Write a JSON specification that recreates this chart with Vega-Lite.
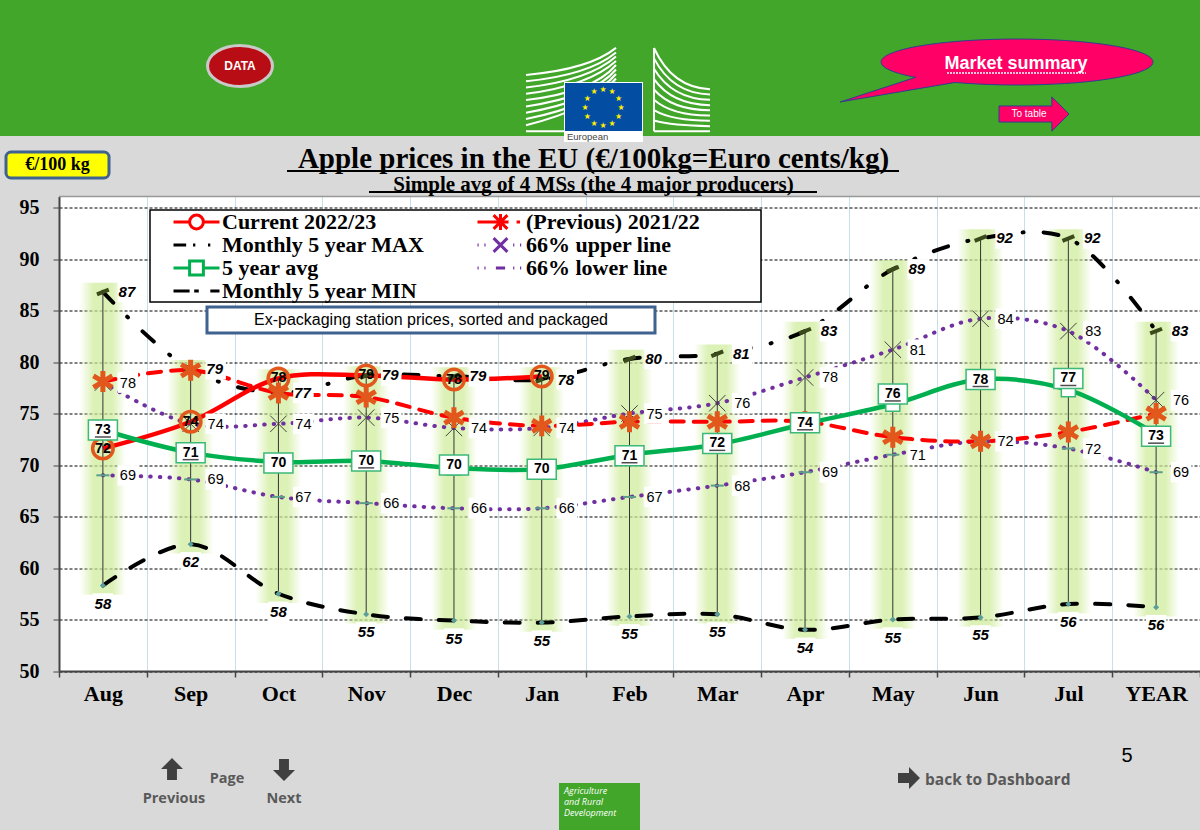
{
"$schema":"https://vega.github.io/schema/vega-lite/v6.json",
"width":1141,"height":474.5,
"autosize":{"type":"none"},
"padding":{"left":59,"top":196.5,"right":0,"bottom":159},
"background":"#d9d9d9",
"view":{"fill":"white","stroke":null},
"title":{"text":"Apple prices in the EU (€/100kg=Euro cents/kg)","subtitle":"Simple avg of 4 MSs (the 4 major producers)","anchor":"middle","frame":"group","dx":-36,"offset":-195,"font":"Liberation Serif","fontWeight":"bold","fontSize":29,"color":"#000000","subtitleFont":"Liberation Serif","subtitleFontWeight":"bold","subtitleFontSize":21,"subtitleColor":"#000000","subtitlePadding":0},
"datasets":{
"prices":[
{"series":"Current 2022/23","month":"Aug","value":71.6,"label":"72"},{"series":"Current 2022/23","month":"Sep","value":74.2,"label":"74"},{"series":"Current 2022/23","month":"Oct","value":78.4,"label":"78"},{"series":"Current 2022/23","month":"Nov","value":78.7,"label":"79"},{"series":"Current 2022/23","month":"Dec","value":78.3,"label":"78"},{"series":"Current 2022/23","month":"Jan","value":78.6,"label":"79"},
{"series":"(Previous) 2021/22","month":"Aug","value":78.1},{"series":"(Previous) 2021/22","month":"Sep","value":79.2},{"series":"(Previous) 2021/22","month":"Oct","value":77},{"series":"(Previous) 2021/22","month":"Nov","value":76.6},{"series":"(Previous) 2021/22","month":"Dec","value":74.6},{"series":"(Previous) 2021/22","month":"Jan","value":73.8},{"series":"(Previous) 2021/22","month":"Feb","value":74.2},{"series":"(Previous) 2021/22","month":"Mar","value":74.2},{"series":"(Previous) 2021/22","month":"Apr","value":74.2},{"series":"(Previous) 2021/22","month":"May","value":72.7},{"series":"(Previous) 2021/22","month":"Jun","value":72.3},{"series":"(Previous) 2021/22","month":"Jul","value":73.2},{"series":"(Previous) 2021/22","month":"YEAR","value":75},
{"series":"Monthly 5 year MAX","month":"Aug","value":86.8,"label":"87"},{"series":"Monthly 5 year MAX","month":"Sep","value":79.3,"label":"79"},{"series":"Monthly 5 year MAX","month":"Oct","value":77,"label":"77"},{"series":"Monthly 5 year MAX","month":"Nov","value":78.7,"label":"79"},{"series":"Monthly 5 year MAX","month":"Dec","value":78.6,"label":"79"},{"series":"Monthly 5 year MAX","month":"Jan","value":78.3,"label":"78"},{"series":"Monthly 5 year MAX","month":"Feb","value":80.3,"label":"80"},{"series":"Monthly 5 year MAX","month":"Mar","value":80.8,"label":"81"},{"series":"Monthly 5 year MAX","month":"Apr","value":83,"label":"83"},{"series":"Monthly 5 year MAX","month":"May","value":89,"label":"89"},{"series":"Monthly 5 year MAX","month":"Jun","value":92,"label":"92"},{"series":"Monthly 5 year MAX","month":"Jul","value":92,"label":"92"},{"series":"Monthly 5 year MAX","month":"YEAR","value":83,"label":"83"},
{"series":"66% upper line","month":"Aug","value":78,"label":"78"},{"series":"66% upper line","month":"Sep","value":74,"label":"74"},{"series":"66% upper line","month":"Oct","value":74,"label":"74"},{"series":"66% upper line","month":"Nov","value":74.6,"label":"75"},{"series":"66% upper line","month":"Dec","value":73.6,"label":"74"},{"series":"66% upper line","month":"Jan","value":73.6,"label":"74"},{"series":"66% upper line","month":"Feb","value":75,"label":"75"},{"series":"66% upper line","month":"Mar","value":76,"label":"76"},{"series":"66% upper line","month":"Apr","value":78.5,"label":"78"},{"series":"66% upper line","month":"May","value":81.2,"label":"81"},{"series":"66% upper line","month":"Jun","value":84.2,"label":"84"},{"series":"66% upper line","month":"Jul","value":83,"label":"83"},{"series":"66% upper line","month":"YEAR","value":76.3,"label":"76"},
{"series":"5 year avg","month":"Aug","value":73.4,"label":"73","labelValue":73.4,"underlined":true},{"series":"5 year avg","month":"Sep","value":71.2,"label":"71","labelValue":71.2,"underlined":true},{"series":"5 year avg","month":"Oct","value":70.3,"label":"70","labelValue":70.2,"underlined":false},{"series":"5 year avg","month":"Nov","value":70.4,"label":"70","labelValue":70.4,"underlined":true},{"series":"5 year avg","month":"Dec","value":69.7,"label":"70","labelValue":70,"underlined":false},{"series":"5 year avg","month":"Jan","value":69.6,"label":"70","labelValue":69.6,"underlined":false},{"series":"5 year avg","month":"Feb","value":71,"label":"71","labelValue":70.9,"underlined":true},{"series":"5 year avg","month":"Mar","value":72,"label":"72","labelValue":72.1,"underlined":true},{"series":"5 year avg","month":"Apr","value":74,"label":"74","labelValue":74.1,"underlined":true},{"series":"5 year avg","month":"May","value":75.9,"label":"76","labelValue":76.9,"underlined":true},{"series":"5 year avg","month":"Jun","value":78.3,"label":"78","labelValue":78.3,"underlined":true},{"series":"5 year avg","month":"Jul","value":77.3,"label":"77","labelValue":78.4,"underlined":true},{"series":"5 year avg","month":"YEAR","value":73,"label":"73","labelValue":72.8,"underlined":true},
{"series":"66% lower line","month":"Aug","value":69,"label":"69"},{"series":"66% lower line","month":"Sep","value":68.6,"label":"69"},{"series":"66% lower line","month":"Oct","value":66.9,"label":"67"},{"series":"66% lower line","month":"Nov","value":66.3,"label":"66"},{"series":"66% lower line","month":"Dec","value":65.8,"label":"66"},{"series":"66% lower line","month":"Jan","value":65.8,"label":"66"},{"series":"66% lower line","month":"Feb","value":66.9,"label":"67"},{"series":"66% lower line","month":"Mar","value":68,"label":"68"},{"series":"66% lower line","month":"Apr","value":69.3,"label":"69"},{"series":"66% lower line","month":"May","value":71,"label":"71"},{"series":"66% lower line","month":"Jun","value":72.3,"label":"72"},{"series":"66% lower line","month":"Jul","value":71.6,"label":"72"},{"series":"66% lower line","month":"YEAR","value":69.3,"label":"69"},
{"series":"Monthly 5 year MIN","month":"Aug","value":58.3,"label":"58"},{"series":"Monthly 5 year MIN","month":"Sep","value":62.3,"label":"62"},{"series":"Monthly 5 year MIN","month":"Oct","value":57.5,"label":"58"},{"series":"Monthly 5 year MIN","month":"Nov","value":55.5,"label":"55"},{"series":"Monthly 5 year MIN","month":"Dec","value":54.9,"label":"55"},{"series":"Monthly 5 year MIN","month":"Jan","value":54.7,"label":"55"},{"series":"Monthly 5 year MIN","month":"Feb","value":55.3,"label":"55"},{"series":"Monthly 5 year MIN","month":"Mar","value":55.5,"label":"55"},{"series":"Monthly 5 year MIN","month":"Apr","value":54,"label":"54"},{"series":"Monthly 5 year MIN","month":"May","value":55,"label":"55"},{"series":"Monthly 5 year MIN","month":"Jun","value":55.2,"label":"55"},{"series":"Monthly 5 year MIN","month":"Jul","value":56.5,"label":"56"},{"series":"Monthly 5 year MIN","month":"YEAR","value":56.2,"label":"56"}
],
"range":[
{"month":"Aug","low":58.3,"high":86.8,"glowLow":57.4,"glowHigh":87.7},{"month":"Sep","low":62.3,"high":79.3,"glowLow":61.4,"glowHigh":80.2},{"month":"Oct","low":57.5,"high":78.4,"glowLow":56.6,"glowHigh":79.3},{"month":"Nov","low":55.5,"high":78.7,"glowLow":54.6,"glowHigh":79.6},{"month":"Dec","low":54.9,"high":78.6,"glowLow":54,"glowHigh":79.5},{"month":"Jan","low":54.7,"high":78.6,"glowLow":53.8,"glowHigh":79.5},{"month":"Feb","low":55.3,"high":80.3,"glowLow":54.4,"glowHigh":81.2},{"month":"Mar","low":55.5,"high":80.8,"glowLow":54.6,"glowHigh":81.7},{"month":"Apr","low":54,"high":83,"glowLow":53.1,"glowHigh":83.9},{"month":"May","low":55,"high":89,"glowLow":54.1,"glowHigh":89.9},{"month":"Jun","low":55.2,"high":92,"glowLow":54.3,"glowHigh":92.9},{"month":"Jul","low":56.5,"high":92,"glowLow":55.6,"glowHigh":92.9},{"month":"YEAR","low":56.2,"high":83,"glowLow":55.3,"glowHigh":83.9}
]},
"resolve":{"scale":{"x":"independent","y":"independent"}},
"layer":[
{"data":{"name":"prices"},
"encoding":{
"x":{"field":"month","type":"nominal","sort":null,"title":null,"scale":{"domain":["Aug","Sep","Oct","Nov","Dec","Jan","Feb","Mar","Apr","May","Jun","Jul","YEAR"],"paddingInner":0,"paddingOuter":0},
"axis":{"tickBand":"extent","labelAngle":0,"labelFont":"Liberation Serif","labelFontWeight":"bold","labelFontSize":22,"labelColor":"#000000","labelPadding":6,"tickColor":"#444444","tickSize":6,"tickWidth":1.5,"domainColor":"#444444","domainWidth":2,"grid":true,"gridColor":"#c5e0ec","gridWidth":1}},
"y":{"field":"value","type":"quantitative","title":null,"scale":{"domain":[50,96.07],"nice":false,"zero":false},
"axis":{"values":[50,55,60,65,70,75,80,85,90,95],"labelFont":"Liberation Serif","labelFontWeight":"bold","labelFontSize":20,"labelColor":"#000000","labelPadding":14,"tickColor":"#444444","tickSize":6,"tickWidth":1,"domainColor":"#444444","domainWidth":2,"grid":true,"gridColor":"#000000","gridDash":[3,2],"gridWidth":1}}
},
"layer":[
{"mark":{"type":"bar","size":46,"fill":{"x1":0,"x2":1,"y1":0,"y2":0,"gradient":"linear","stops":[{"offset":0,"color":"rgba(205,235,150,0)"},{"offset":0.3,"color":"rgba(205,235,150,0.7)"},{"offset":0.7,"color":"rgba(205,235,150,0.7)"},{"offset":1,"color":"rgba(205,235,150,0)"}]}},"data":{"name":"range"},"encoding":{"y":{"field":"glowLow","type":"quantitative"},"y2":{"field":"glowHigh"}}},
{"mark":{"type":"point","filled":false,"opacity":0,"size":2116,"strokeWidth":3},
"encoding":{
"color":{"field":"series","type":"nominal","scale":{"domain":["Current 2022/23","(Previous) 2021/22","Monthly 5 year MAX","66% upper line","5 year avg","66% lower line","Monthly 5 year MIN"],"range":["#ff0000","#ff0000","#000000","#7030a0","#00b050","#7030a0","#000000"]},
"legend":{"title":null,"orient":"none","legendX":113,"legendY":14,"direction":"horizontal","columns":2,"columnPadding":51,"rowPadding":0,"clipHeight":23,"padding":0,"symbolSize":2116,"labelFont":"Liberation Serif","labelFontWeight":"bold","labelFontSize":22,"labelColor":"#000000","labelOffset":1,"labelLimit":400,"symbolStrokeWidth":3,"encode":{"symbols":{"update":{"opacity":{"value":1},"strokeCap":{"value":"round"}}}}}},
"shape":{"field":"series","type":"nominal","scale":{"domain":["Current 2022/23","(Previous) 2021/22","Monthly 5 year MAX","66% upper line","5 year avg","66% lower line","Monthly 5 year MIN"],"range":["M-1 0L-.3 0M.3 0L1 0M.3 0A.3 .3 0 1 0 -.3 0A.3 .3 0 1 0 .3 0","M-1 0L-.35 0M.7 0L.85 0M-.3 -.3L.3 .3M-.3 .3L.3 -.3M0 -.35L0 .35M-.35 0L.35 0","M-1 0L-.45 0M-.15 0L-.05 0M.5 0L.6 0","M-1 0L-.95 0M-.7 0L-.65 0M.55 0L.6 0M.85 0L.9 0M-.3 -.3L.3 .3M-.3 .3L.3 -.3","M-1 0L-.3 0M.3 0L1 0M-.3 -.3L.3 -.3L.3 .3L-.3 .3Z","M-1 0L-.95 0M-.7 0L-.65 0M-.2 0L.2 0M.55 0L.6 0M.85 0L.9 0","M-1 0L-.3 0M.6 0L1 0M-.1 0L.1 0"]}}
}},
{"transform":[{"filter":"datum.series=='Monthly 5 year MIN'"}],"mark":{"type":"line","interpolate":"catmull-rom","color":"#000000","strokeWidth":4,"strokeDash":[15,18],"strokeCap":"round"}},
{"transform":[{"filter":"datum.series=='Monthly 5 year MAX'"}],"mark":{"type":"line","interpolate":"catmull-rom","color":"#000000","strokeWidth":4,"strokeDash":[15,20,1,20],"strokeCap":"round"}},
{"transform":[{"filter":"datum.series=='66% upper line'"}],"mark":{"type":"line","interpolate":"catmull-rom","color":"#7030a0","strokeWidth":4,"strokeDash":[0.5,9],"strokeCap":"round"}},
{"transform":[{"filter":"datum.series=='66% lower line'"}],"mark":{"type":"line","interpolate":"catmull-rom","color":"#7030a0","strokeWidth":4,"strokeDash":[0.5,9],"strokeCap":"round"}},
{"transform":[{"filter":"datum.series=='(Previous) 2021/22'"}],"mark":{"type":"line","interpolate":"catmull-rom","color":"#ff0000","strokeWidth":4,"strokeDash":[13,10],"strokeCap":"round"}},
{"transform":[{"filter":"datum.series=='Current 2022/23'"}],"mark":{"type":"line","interpolate":"catmull-rom","color":"#ff0000","strokeWidth":4.5}},
{"transform":[{"filter":"datum.series=='5 year avg'"}],"mark":{"type":"line","interpolate":"catmull-rom","color":"#00b050","strokeWidth":4.5}},
{"transform":[{"filter":"datum.series=='Monthly 5 year MAX'||datum.series=='66% upper line'||datum.series=='66% lower line'"}],"mark":{"type":"point","shape":"square","filled":true,"fill":"#ffffff","opacity":1,"size":420,"xOffset":25}},
{"transform":[{"filter":"datum.series=='Monthly 5 year MIN'"}],"mark":{"type":"point","shape":"square","filled":true,"fill":"#ffffff","opacity":1,"size":420,"yOffset":18}},
{"mark":{"type":"rule","color":"#333333","strokeWidth":1},"data":{"name":"range"},"encoding":{"y":{"field":"low","type":"quantitative"},"y2":{"field":"high"}}},
{"transform":[{"filter":"datum.series=='Monthly 5 year MIN'"}],"mark":{"type":"point","shape":"diamond","filled":true,"fill":"#5b9e9a","opacity":1,"size":36}},
{"transform":[{"filter":"datum.series=='Monthly 5 year MAX'"}],"mark":{"type":"point","shape":"M-1 .4L1 -.4","filled":false,"stroke":"#3a4a1a","strokeWidth":4,"opacity":1,"size":140}},
{"transform":[{"filter":"datum.series=='66% lower line'"}],"mark":{"type":"point","shape":"M-1 0L1 0","filled":false,"stroke":"#5b9e8a","strokeWidth":2,"opacity":1,"size":170}},
{"transform":[{"filter":"datum.series=='66% upper line'"}],"mark":{"type":"point","shape":"M-1 -1L1 1M-1 1L1 -1","filled":false,"stroke":"#444444","strokeWidth":1,"opacity":1,"size":270}},
{"transform":[{"filter":"datum.series=='(Previous) 2021/22'"}],"mark":{"type":"point","shape":"M0 -1L0 1M-.9 -.55L.9 .55M-.9 .55L.9 -.55","filled":false,"stroke":"#e2571b","strokeWidth":5,"opacity":1,"size":440}},
{"transform":[{"filter":"datum.series=='Current 2022/23'"}],"mark":{"type":"point","shape":"circle","filled":false,"stroke":"#e2571b","strokeWidth":3.5,"opacity":1,"size":420}},
{"transform":[{"filter":"datum.series=='5 year avg'"}],"mark":{"type":"point","shape":"square","filled":true,"fill":"#ffffff","stroke":"#3cb878","strokeWidth":1.5,"opacity":1,"size":196}},
{"transform":[{"filter":"datum.series=='5 year avg'"}],"mark":{"type":"rect","fill":"#ffffff","stroke":"#3cb878","strokeWidth":1.5,"width":29,"height":20},"encoding":{"y":{"field":"labelValue","type":"quantitative"}}},
{"transform":[{"filter":"datum.series=='5 year avg'"}],"mark":{"type":"text","font":"Liberation Sans","fontWeight":"bold","fontSize":14,"color":"#000000","baseline":"middle"},"encoding":{"y":{"field":"labelValue","type":"quantitative"},"text":{"field":"label"}}},
{"transform":[{"filter":"datum.series=='5 year avg'&&datum.underlined"}],"mark":{"type":"tick","orient":"horizontal","color":"#000000","size":16,"thickness":1.5,"yOffset":7},"encoding":{"y":{"field":"labelValue","type":"quantitative"}}},
{"transform":[{"filter":"datum.series=='Current 2022/23'"}],"mark":{"type":"text","font":"Liberation Sans","fontWeight":"bold","fontSize":14,"color":"#000000","baseline":"middle"},"encoding":{"text":{"field":"label"}}},
{"transform":[{"filter":"datum.series=='Monthly 5 year MAX'"}],"mark":{"type":"text","font":"Liberation Sans","fontWeight":"bold","fontStyle":"italic","fontSize":15,"color":"#000000","baseline":"middle","dx":24},"encoding":{"text":{"field":"label"}}},
{"transform":[{"filter":"datum.series=='Monthly 5 year MIN'"}],"mark":{"type":"text","font":"Liberation Sans","fontWeight":"bold","fontStyle":"italic","fontSize":15,"color":"#000000","baseline":"middle","dy":18},"encoding":{"text":{"field":"label"}}},
{"transform":[{"filter":"datum.series=='66% upper line'||datum.series=='66% lower line'"}],"mark":{"type":"text","font":"Liberation Sans","fontSize":14.5,"color":"#000000","baseline":"middle","dx":25,"dy":1},"encoding":{"text":{"field":"label"}}}
]},
{"encoding":{
"x":{"field":"px","type":"quantitative","axis":null,"title":null,"scale":{"domain":[59,1200],"nice":false,"zero":false}},
"y":{"field":"py","type":"quantitative","axis":null,"title":null,"scale":{"domain":[671,196.5],"nice":false,"zero":false}}},
"layer":[
{"data":{"values":[{"item":"legend box","px":150,"px2":761,"py":210,"py2":302}]},"mark":{"type":"rect","fill":"#ffffff","stroke":"#000000","strokeWidth":1.5},"encoding":{"x2":{"field":"px2"},"y2":{"field":"py2"}}},
{"data":{"values":[{"item":"note box","px":207,"px2":655,"py":307,"py2":333}]},"mark":{"type":"rect","fill":"#ffffff","stroke":"#3f628f","strokeWidth":3},"encoding":{"x2":{"field":"px2"},"y2":{"field":"py2"}}},
{"data":{"values":[{"item":"plot top","px":59,"px2":1200,"py":196.5}]},"mark":{"type":"rule","color":"#999999","strokeWidth":1.5},"encoding":{"x2":{"field":"px2"}}},
{"data":{"values":[{"item":"title line","px":287,"px2":899,"py":171},{"item":"subtitle line","px":369,"px2":817,"py":192}]},"mark":{"type":"rule","color":"#000000","strokeWidth":2},"encoding":{"x2":{"field":"px2"}}},
{"data":{"values":[{"item":"header","px":0,"px2":1200,"py":0,"py2":136}]},"mark":{"type":"rect","fill":"#41a62a"},"encoding":{"x2":{"field":"px2"},"y2":{"field":"py2"}}},
{"data":{"values":[{"item":"unit box","px":6,"px2":109,"py":152,"py2":178}]},"mark":{"type":"rect","fill":"#ffff00","stroke":"#3f628f","strokeWidth":3,"cornerRadius":5},"encoding":{"x2":{"field":"px2"},"y2":{"field":"py2"}}},
{"data":{"values":[{"px":240,"py":66}]},"mark":{"type":"point","shape":"M-1 0A1 .63 0 1 1 1 0A1 .63 0 1 1 -1 0Z","filled":true,"fill":"#b80d14","stroke":"#c9c9c9","strokeWidth":3,"opacity":1,"size":4225}},
{"data":{"values":[{"px":682,"py":92}]},"mark":{"type":"point","shape":"M-1 -1.57Q-.35 -.15 1 -.1M-1 -1.2Q-.35 .05 1 .09M-1 -.83Q-.35 .25 1 .28M-1 -.46Q-.35 .45 1 .47M-1 -.09Q-.35 .65 1 .65M-1 .28Q-.35 .85 1 .84M-1 .65Q-.35 1.03 1 1.03M-1 1.02Q-.35 1.2 1 1.22M-1 1.4L1 1.4M-1 -1.57L-1 1.4","filled":false,"stroke":"#ffffff","strokeWidth":2,"opacity":1,"size":3136}},
{"data":{"values":[{"px":571,"py":92}]},"mark":{"type":"point","shape":"M-1 -.38Q.4 -.5 1 -.98M-1 -.24Q.4 -.38 1 -.88M-1 -.1Q.4 -.26 1 -.79M-1 .04Q.4 -.14 1 -.69M-1 .18Q.5 0 1 -.6M-1 .32Q.5 .1 1 -.5M-1 .46Q.5 .2 1 -.4M-1 .6Q.5 .3 1 -.3M-1 .74Q.5 .35 1 -.22M-1 .87L0 .87","filled":false,"stroke":"#ffffff","strokeWidth":2,"opacity":1,"size":8100}},
{"data":{"values":[{"item":"flag white","px":564,"px2":643,"py":82,"py2":142}]},"mark":{"type":"rect","fill":"#ffffff"},"encoding":{"x2":{"field":"px2"},"y2":{"field":"py2"}}},
{"data":{"values":[{"item":"flag blue","px":565,"px2":642,"py":83,"py2":131}]},"mark":{"type":"rect","fill":"#034ea2"},"encoding":{"x2":{"field":"px2"},"y2":{"field":"py2"}}},
{"data":{"values":[{"px":603,"py":90,"t":"★"},{"px":612,"py":92.4,"t":"★"},{"px":618.6,"py":99,"t":"★"},{"px":621,"py":108,"t":"★"},{"px":618.6,"py":117,"t":"★"},{"px":612,"py":123.6,"t":"★"},{"px":603,"py":126,"t":"★"},{"px":594,"py":123.6,"t":"★"},{"px":587.4,"py":117,"t":"★"},{"px":585,"py":108,"t":"★"},{"px":587.4,"py":99,"t":"★"},{"px":594,"py":92.4,"t":"★"}]},"mark":{"type":"text","font":"DejaVu Sans","fontSize":8,"color":"#ffed00","baseline":"middle"},"encoding":{"text":{"field":"t"}}},
{"data":{"values":[{"px":567,"py":137,"t":"European"}]},"mark":{"type":"text","font":"Liberation Sans","fontSize":9.5,"color":"#444444","align":"left","baseline":"middle"},"encoding":{"text":{"field":"t"}}},
{"data":{"values":[{"px":1017,"py":62}]},"mark":{"type":"point","shape":"M-.745 .1127A1 .169 0 1 1 -.456 .1504L-1.3 .294Z","filled":true,"fill":"#ff0066","stroke":"#2f3f8f","strokeWidth":1,"opacity":1,"size":73984}},
{"data":{"values":[{"px":1034,"py":114}]},"mark":{"type":"point","shape":"M-1 -.23L.51 -.23L.51 -.49L1 0L.51 .49L.51 .23L-1 .23Z","filled":true,"fill":"#ff0066","stroke":"#2f3f8f","strokeWidth":1,"opacity":1,"size":4900}},
{"data":{"values":[{"item":"summary line","px":947,"px2":1086,"py":73}]},"mark":{"type":"rule","color":"#ffffff","strokeWidth":1.5,"strokeDash":[2,1]},"encoding":{"x2":{"field":"px2"}}},
{"data":{"values":[{"px":172,"py":769}]},"mark":{"type":"point","shape":"M0 -1L1 0L.45 0L.45 1L-.45 1L-.45 0L-1 0Z","filled":true,"fill":"#404040","opacity":1,"size":484}},
{"data":{"values":[{"px":284,"py":770}]},"mark":{"type":"point","shape":"M0 1L1 0L.45 0L.45 -1L-.45 -1L-.45 0L-1 0Z","filled":true,"fill":"#404040","opacity":1,"size":484}},
{"data":{"values":[{"px":909,"py":778}]},"mark":{"type":"point","shape":"M-1 -.45L0 -.45L0 -1L1 0L0 1L0 .45L-1 .45Z","filled":true,"fill":"#404040","opacity":1,"size":484}},
{"data":{"values":[{"item":"footer","px":559,"px2":640,"py":783,"py2":830}]},"mark":{"type":"rect","fill":"#41a62a"},"encoding":{"x2":{"field":"px2"},"y2":{"field":"py2"}}},
{"data":{"values":[{"px":564,"py":791,"t":"Agriculture"},{"px":564,"py":802,"t":"and Rural"},{"px":564,"py":813,"t":"Development"}]},"mark":{"type":"text","font":"Open Sans","fontStyle":"italic","fontSize":9,"color":"#ffffff","align":"left","baseline":"middle"},"encoding":{"text":{"field":"t"}}},
{"data":{"values":[{"px":57.5,"py":165,"t":"€/100 kg"}]},"mark":{"type":"text","font":"Liberation Serif","fontWeight":"bold","fontSize":18,"color":"#000000","baseline":"middle"},"encoding":{"text":{"field":"t"}}},
{"data":{"values":[{"px":240,"py":66,"t":"DATA"}]},"mark":{"type":"text","font":"Liberation Sans","fontWeight":"bold","fontSize":12,"color":"#ffffff","baseline":"middle"},"encoding":{"text":{"field":"t"}}},
{"data":{"values":[{"px":1016,"py":64,"t":"Market summary"}]},"mark":{"type":"text","font":"Liberation Sans","fontWeight":"bold","fontSize":18,"color":"#ffffff","baseline":"middle"},"encoding":{"text":{"field":"t"}}},
{"data":{"values":[{"px":1029,"py":114,"t":"To table"}]},"mark":{"type":"text","font":"Liberation Sans","fontSize":10,"color":"#ffffff","baseline":"middle"},"encoding":{"text":{"field":"t"}}},
{"data":{"values":[{"px":431,"py":320,"t":"Ex-packaging station prices, sorted and packaged"}]},"mark":{"type":"text","font":"Liberation Sans","fontSize":16,"color":"#000000","baseline":"middle"},"encoding":{"text":{"field":"t"}}},
{"data":{"values":[{"px":227,"py":779,"t":"Page"},{"px":174,"py":799,"t":"Previous"},{"px":284,"py":799,"t":"Next"}]},"mark":{"type":"text","font":"Open Sans","fontWeight":"bold","fontSize":14.5,"color":"#595959","baseline":"middle"},"encoding":{"text":{"field":"t"}}},
{"data":{"values":[{"px":925,"py":780,"t":"back to Dashboard"}]},"mark":{"type":"text","font":"Open Sans","fontWeight":"bold","fontSize":15.5,"color":"#595959","align":"left","baseline":"middle"},"encoding":{"text":{"field":"t"}}},
{"data":{"values":[{"px":1127,"py":756,"t":"5"}]},"mark":{"type":"text","font":"Liberation Sans","fontSize":20,"color":"#000000","baseline":"middle"},"encoding":{"text":{"field":"t"}}}
]}
]}
